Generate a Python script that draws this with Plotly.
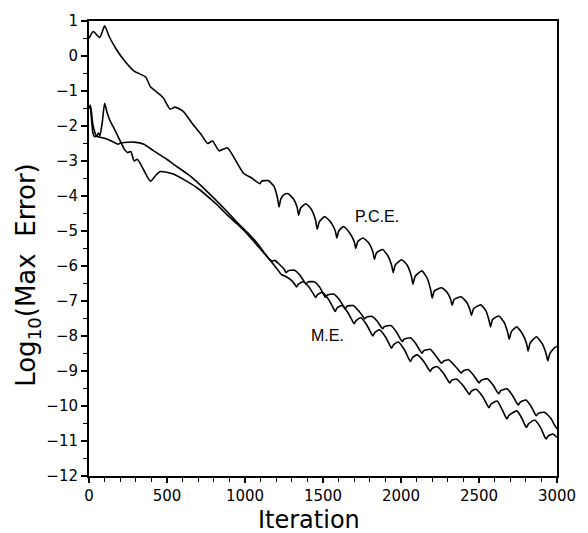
import plotly.graph_objects as go

# ---- data (iteration, log10 of max error) ----
pce_iter = [0, 27, 69, 100, 130, 174, 230, 289, 363, 394, 457, 478, 520, 552, 604, 667, 720, 761, 792, 834, 887, 950, 990, 1040,
            1096, 1106, 1149, 1185, 1208, 1218, 1230, 1250, 1275, 1310, 1334, 1344, 1356, 1390, 1425, 1453, 1463, 1476, 1511,
            1550, 1579, 1589, 1601, 1631, 1670, 1700, 1710, 1723, 1757, 1795, 1820, 1830, 1843, 1882, 1915, 1940, 1950, 1963,
            2005, 2040, 2067, 2077, 2090, 2134, 2168, 2190, 2200, 2213, 2260, 2295, 2318, 2328, 2341, 2385, 2420, 2442, 2452,
            2465, 2511, 2545, 2564, 2574, 2587, 2627, 2660, 2684, 2694, 2707, 2742, 2780, 2805, 2815, 2828, 2868, 2905, 2931,
            2941, 2954, 2985, 3000]
pce_val = [0.50, 0.70, 0.53, 0.86, 0.55, 0.20, -0.15, -0.43, -0.60, -0.88, -1.11, -1.21, -1.52, -1.46, -1.58, -1.96, -2.25, -2.50, -2.43, -2.71, -2.62, -3.06, -3.35, -3.48,
           -3.65, -3.58, -3.56, -3.72, -4.05, -4.31, -4.08, -3.96, -3.93, -4.08, -4.32, -4.55, -4.35, -4.22, -4.38, -4.70, -4.95, -4.74, -4.59,
           -4.75, -5.00, -5.20, -5.00, -4.87, -5.05, -5.30, -5.50, -5.30, -5.20, -5.35, -5.60, -5.81, -5.62, -5.53, -5.70, -5.98, -6.19, -5.97,
           -5.82, -5.98, -6.30, -6.52, -6.30, -6.14, -6.35, -6.68, -6.92, -6.72, -6.62, -6.75, -6.95, -7.12, -6.95, -6.88, -7.03, -7.25, -7.41,
           -7.22, -7.11, -7.28, -7.55, -7.74, -7.53, -7.43, -7.60, -7.90, -8.09, -7.88, -7.74, -7.95, -8.22, -8.43, -8.20, -8.02, -8.22, -8.52,
           -8.71, -8.50, -8.33, -8.30]

me1_iter = [0, 10, 25, 48, 100, 153, 185, 205, 289, 352, 415, 499, 541, 646, 771, 876, 950, 1013, 1080, 1149,
            1175, 1191, 1220, 1252, 1264, 1276, 1317, 1350, 1380, 1390, 1402, 1442, 1478, 1506, 1516, 1528, 1568,
            1603, 1632, 1642, 1654, 1694, 1728, 1757, 1767, 1779, 1815, 1848, 1872, 1882, 1894, 1935, 1970, 1998,
            2008, 2020, 2061, 2095, 2124, 2134, 2146, 2187, 2220, 2250, 2260, 2272, 2305, 2345, 2376, 2386, 2398,
            2430, 2465, 2491, 2501, 2513, 2553, 2590, 2617, 2627, 2639, 2679, 2715, 2743, 2753, 2765, 2800, 2835,
            2858, 2868, 2880, 2920, 2960, 2985, 3000]
me1_val = [-1.49, -1.44, -1.96, -2.29, -2.35, -2.45, -2.52, -2.48, -2.46, -2.52, -2.71, -2.95, -3.09, -3.42, -3.93, -4.40, -4.76, -5.03, -5.36, -5.77,
           -5.86, -5.84, -5.95, -6.10, -6.19, -6.14, -6.12, -6.25, -6.45, -6.52, -6.46, -6.45, -6.60, -6.83, -6.90, -6.83, -6.80,
           -6.95, -7.15, -7.22, -7.15, -7.13, -7.28, -7.45, -7.51, -7.46, -7.44, -7.58, -7.74, -7.79, -7.73, -7.70, -7.88, -8.10,
           -8.16, -8.09, -8.05, -8.22, -8.43, -8.49, -8.42, -8.38, -8.55, -8.73, -8.78, -8.72, -8.68, -8.85, -9.01, -9.06, -9.00,
           -8.96, -9.12, -9.29, -9.34, -9.27, -9.22, -9.40, -9.60, -9.65, -9.56, -9.51, -9.70, -9.92, -9.97, -9.89, -9.83, -10.02,
           -10.22, -10.28, -10.21, -10.18, -10.35, -10.55, -10.65]

me2_iter = [0, 8, 15, 25, 35, 48, 60, 70, 85, 100, 115, 132, 164, 195, 226, 247, 268, 289, 310, 350, 394, 430, 457, 541, 688, 813, 900, 950, 1013, 1080, 1149,
            1200, 1235, 1262, 1300, 1320, 1330, 1342, 1372, 1410, 1443, 1453, 1465, 1495, 1535, 1568, 1578, 1590, 1620,
            1658, 1690, 1700, 1712, 1742, 1780, 1810, 1820, 1832, 1862, 1900, 1930, 1940, 1952, 1982, 2020, 2051, 2061,
            2073, 2103, 2145, 2177, 2187, 2199, 2229, 2270, 2302, 2312, 2324, 2354, 2395, 2428, 2438, 2450, 2480, 2522,
            2554, 2564, 2576, 2616, 2650, 2669, 2679, 2691, 2742, 2775, 2795, 2805, 2817, 2857, 2895, 2921, 2931, 2943,
            2973, 3000]
me2_val = [-1.50, -1.40, -1.75, -2.20, -2.30, -2.29, -2.20, -2.28, -1.90, -1.35, -1.60, -1.82, -2.10, -2.38, -2.66, -2.76, -2.73, -3.00, -2.95, -3.25, -3.58, -3.40, -3.30, -3.37, -3.75, -4.22, -4.60, -4.80, -5.08, -5.42, -5.77,
           -6.05, -6.25, -6.30, -6.42, -6.53, -6.60, -6.52, -6.45, -6.60, -6.83, -6.90, -6.82, -6.75, -6.95, -7.22, -7.30, -7.20, -7.13,
           -7.32, -7.58, -7.65, -7.56, -7.48, -7.68, -7.93, -8.00, -7.90, -7.82, -8.02, -8.28, -8.35, -8.25, -8.17, -8.38, -8.66, -8.73,
           -8.62, -8.54, -8.72, -8.95, -9.01, -8.93, -8.87, -9.05, -9.28, -9.34, -9.27, -9.23, -9.40, -9.61, -9.67, -9.58, -9.52, -9.72,
           -9.98, -10.05, -9.95, -9.86, -10.12, -10.30, -10.37, -10.27, -10.14, -10.35, -10.55, -10.61, -10.51, -10.40, -10.62, -10.88, -10.94, -10.86,
           -10.80, -10.90]

x_ticks = [0, 500, 1000, 1500, 2000, 2500, 3000]
y_ticks = list(range(1, -13, -1))

FONT = "DejaVu Sans"
line = dict(color="black", width=1.6, shape="spline", smoothing=0.5)

fig = go.Figure()
for xs, ys in [(pce_iter, pce_val), (me1_iter, me1_val), (me2_iter, me2_val)]:
    fig.add_trace(go.Scatter(x=xs, y=ys, mode="lines", line=line, showlegend=False, hoverinfo="skip"))

fig.update_layout(
    width=588, height=533,
    margin=dict(l=89, r=22, t=15, b=57),
    paper_bgcolor="white", plot_bgcolor="white",
    font=dict(family=FONT, color="black"),
    xaxis=dict(range=[0, 3000], tickvals=x_ticks, showgrid=False, zeroline=False,
               showline=True, linecolor="black", linewidth=2, mirror=True,
               ticks="outside", ticklen=5, tickwidth=1.5, tickcolor="black",
               minor=dict(dtick=100, ticks="outside", ticklen=4, tickcolor="black", tickwidth=1),
               tickfont=dict(family=FONT, size=15, color="black")),
    yaxis=dict(range=[-12, 1], tickvals=y_ticks, showgrid=False, zeroline=False,
               showline=True, linecolor="black", linewidth=2, mirror=True,
               ticks="outside", ticklen=6, tickwidth=1.5, tickcolor="black",
               minor=dict(dtick=0.5, ticks="outside", ticklen=4, tickcolor="black", tickwidth=1),
               tickfont=dict(family=FONT, size=15, color="black")),
    annotations=[
        dict(text="Iteration", xref="paper", yref="paper", x=0.4706, y=-0.096,
             xanchor="center", yanchor="middle", showarrow=False,
             font=dict(family=FONT, size=24, color="black")),
        dict(text="Log<sub>10</sub>(Max  Error)", xref="paper", yref="paper", x=-0.13, y=0.4425,
             xanchor="center", yanchor="middle", textangle=-90, showarrow=False,
             font=dict(family=FONT, size=26, color="black")),
        dict(text="P.C.E.", xref="x", yref="y", x=1849, y=-4.58, showarrow=False,
             xanchor="center", yanchor="middle",
             font=dict(family="Liberation Sans", size=16, color="black")),
        dict(text="M.E.", xref="x", yref="y", x=1528, y=-7.99, showarrow=False,
             xanchor="center", yanchor="middle",
             font=dict(family="Liberation Sans", size=16, color="black")),
    ],
)

fig.write_html("out.html")
